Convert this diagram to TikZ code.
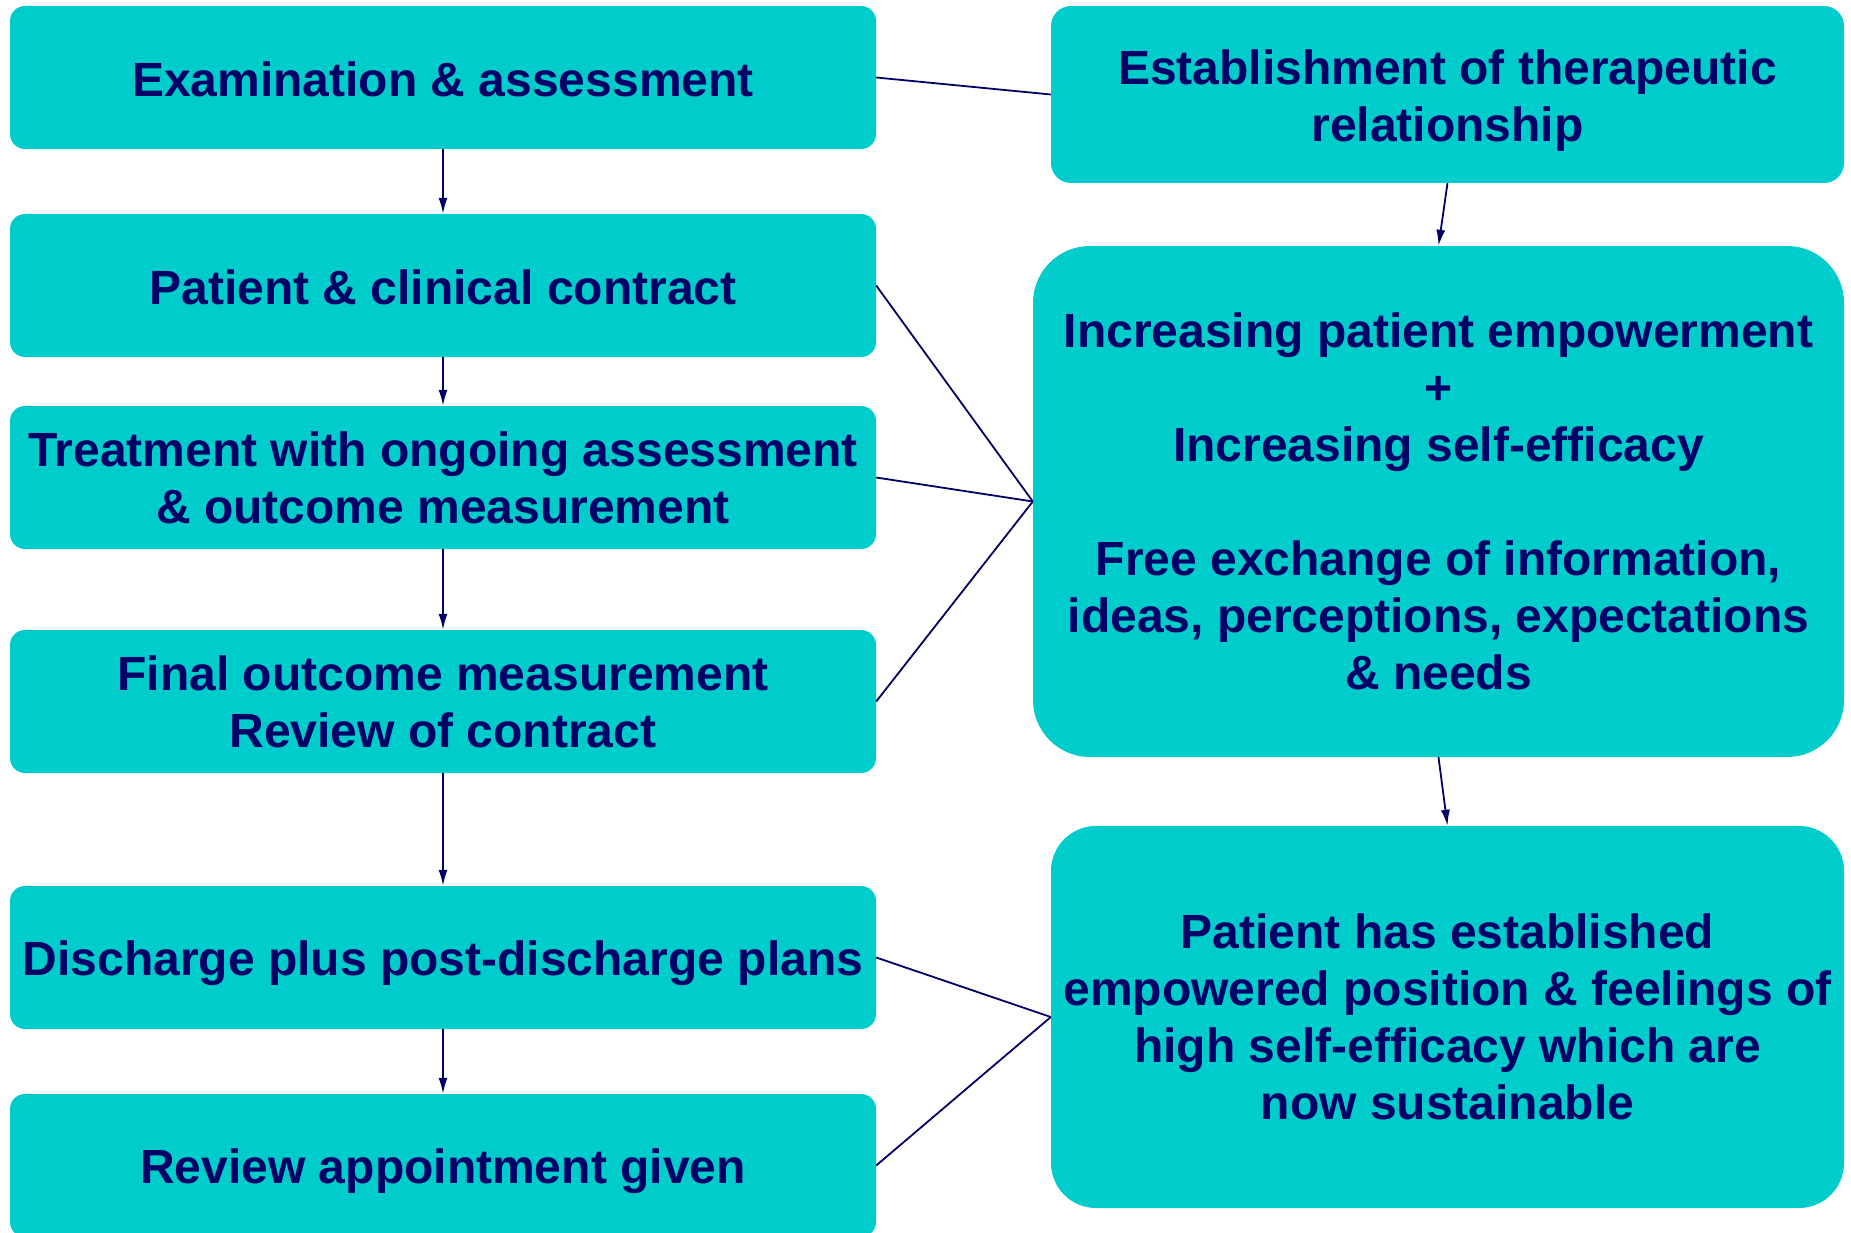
\documentclass[tikz,border=0pt]{standalone}
\usepackage{fontspec}
\setmainfont{Liberation Sans}
\usetikzlibrary{arrows.meta}
\definecolor{boxfill}{RGB}{0,204,204}
\definecolor{navy}{RGB}{0,0,102}
\newcommand{\lowered}[2]{\raisebox{-#1}[\height][\depth]{#2}}
\newcommand{\loweredlines}[2]{\raisebox{-#1}[\height][\depth]{\begin{tabular}{@{}c@{}}#2\end{tabular}}}
\begin{document}
\begin{tikzpicture}[x=1pt,y=-1pt,
  box/.style={fill=boxfill, draw=none, inner sep=0pt, align=center,
    text=navy, font=\fontsize{48}{57}\selectfont\bfseries},
  lbox/.style={box, minimum width=866pt, minimum height=143pt, rounded corners=15pt},
  conn/.style={draw=navy, line width=1.8pt},
  arr/.style={conn, -{Latex[length=16pt,width=9pt]}}
]
\useasboundingbox (0,0) rectangle (1851,1233);
\node[lbox] (b1) at (443,77.5) {\lowered{1.5pt}{Examination \& assessment}};
\node[lbox] (b2) at (443,285.5) {\lowered{1.5pt}{Patient \& clinical contract}};
\node[lbox] (b3) at (443,477.5) {Treatment with ongoing assessment\\\& outcome measurement};
\node[lbox] (b4) at (443,701.5) {Final outcome measurement\\Review of contract};
\node[lbox] (b5) at (443,957.5) {\lowered{6pt}{Discharge plus post-discharge plans}};
\node[lbox] (b6) at (443,1165.5) {\lowered{6pt}{Review appointment given}};

\node[box, minimum width=793pt, minimum height=177pt, rounded corners=20pt] (top) at (1447.5,94.5)
  {\loweredlines{7pt}{Establishment of therapeutic\\relationship}};
\node[box, minimum width=811pt, minimum height=511pt, rounded corners=57pt] (big) at (1438.5,501.5)
  {Increasing patient empowerment\\+\\Increasing self-efficacy\\[57pt]Free exchange of information,\\ideas, perceptions, expectations\\\& needs};
\node[box, minimum width=793pt, minimum height=382pt, rounded corners=45pt] (bot) at (1447.5,1017)
  {Patient has established\\empowered position \& feelings of\\high self-efficacy which are\\now sustainable};

\draw[arr] (b1.south) -- (b2.north);
\draw[arr] (b2.south) -- (b3.north);
\draw[arr] (b3.south) -- (b4.north);
\draw[arr] (b4.south) -- (b5.north);
\draw[arr] (b5.south) -- (b6.north);

\draw[conn] (b1.east) -- (top.west);
\draw[arr] (top.south) -- (big.north);
\draw[conn] (b2.east) -- (big.west);
\draw[conn] (b3.east) -- (big.west);
\draw[conn] (b4.east) -- (big.west);
\draw[arr] (big.south) -- (bot.north);
\draw[conn] (b5.east) -- (bot.west);
\draw[conn] (b6.east) -- (bot.west);
\end{tikzpicture}
\end{document}
